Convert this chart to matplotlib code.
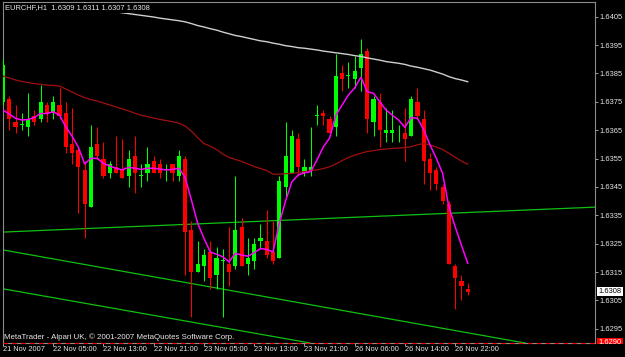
import matplotlib
matplotlib.use("Agg")
import matplotlib.pyplot as plt
from matplotlib.transforms import Bbox
import numpy as np

plt.rcParams['font.family'] = ['Liberation Sans', 'DejaVu Sans']

# EURCHF H1 candles, 21 Nov 2007 21:00 .. 27 Nov 2007 00:00
opens = [1.6375, 1.6376, 1.6368, 1.6367, 1.6366, 1.6370, 1.6369, 1.6374, 1.6371, 1.6374,
         1.6371, 1.6360, 1.6358, 1.6351, 1.6338, 1.6360, 1.6355, 1.6350, 1.6352, 1.6351,
         1.6349, 1.6356, 1.6349, 1.6350, 1.6354, 1.6353, 1.6351, 1.6353, 1.6349, 1.6355,
         1.6330, 1.6315, 1.6317, 1.6322, 1.6314, 1.6319, 1.6318, 1.6317, 1.6331, 1.6318,
         1.6319, 1.6326, 1.6326, 1.6322, 1.6320, 1.6345, 1.6350, 1.6362, 1.6350, 1.6351,
         1.6370, 1.6371, 1.6369, 1.6366, 1.6385, 1.6384, 1.6383, 1.6387, 1.6393, 1.6368,
         1.6375, 1.6364, 1.6364, 1.6366, 1.6364, 1.6363, 1.6375, 1.6369, 1.6355, 1.6351,
         1.6345, 1.6339, 1.6317, 1.6312, 1.6309]
highs = [1.6390, 1.6377, 1.6374, 1.6371, 1.6378, 1.6372, 1.6381, 1.6375, 1.6377, 1.6380,
         1.6375, 1.6373, 1.6359, 1.6354, 1.6367, 1.6366, 1.6361, 1.6354, 1.6363, 1.6362,
         1.6358, 1.6363, 1.6353, 1.6359, 1.6356, 1.6355, 1.6353, 1.6353, 1.6358, 1.6356,
         1.6333, 1.6326, 1.6323, 1.6326, 1.6324, 1.6323, 1.6331, 1.6349, 1.6334, 1.6327,
         1.6327, 1.6332, 1.6337, 1.6333, 1.6349, 1.6368, 1.6365, 1.6364, 1.6355, 1.6366,
         1.6374, 1.6372, 1.6370, 1.6392, 1.6388, 1.6389, 1.6391, 1.6397, 1.6394, 1.6377,
         1.6378, 1.6373, 1.6372, 1.6367, 1.6373, 1.6377, 1.6380, 1.6372, 1.6357, 1.6352,
         1.6346, 1.6340, 1.6318, 1.6314, 1.6311]
lows = [1.6374, 1.6365, 1.6364, 1.6365, 1.6363, 1.6367, 1.6368, 1.6368, 1.6369, 1.6369,
        1.6357, 1.6353, 1.6336, 1.6327, 1.6338, 1.6355, 1.6348, 1.6348, 1.6350, 1.6348,
        1.6345, 1.6343, 1.6345, 1.6347, 1.6350, 1.6348, 1.6347, 1.6347, 1.6347, 1.6314,
        1.6299, 1.6315, 1.6312, 1.6309, 1.6309, 1.6299, 1.6310, 1.6316, 1.6317, 1.6314,
        1.6316, 1.6323, 1.6320, 1.6318, 1.6320, 1.6341, 1.6350, 1.6349, 1.6349, 1.6349,
        1.6367, 1.6367, 1.6364, 1.6363, 1.6379, 1.6380, 1.6380, 1.6379, 1.6364, 1.6363,
        1.6359, 1.6361, 1.6361, 1.6361, 1.6354, 1.6363, 1.6369, 1.6346, 1.6344, 1.6344,
        1.6339, 1.6318, 1.6302, 1.6305, 1.6307]
closes = [1.6388, 1.6369, 1.6366, 1.6367, 1.6369, 1.6368, 1.6375, 1.6371, 1.6375, 1.6370,
          1.6359, 1.6357, 1.6352, 1.6339, 1.6359, 1.6356, 1.6349, 1.6353, 1.6350, 1.6348,
          1.6355, 1.6350, 1.6349, 1.6353, 1.6350, 1.6350, 1.6351, 1.6350, 1.6356, 1.6329,
          1.6315, 1.6318, 1.6321, 1.6313, 1.6320, 1.6319, 1.6315, 1.6330, 1.6317, 1.6320,
          1.6325, 1.6327, 1.6321, 1.6319, 1.6347, 1.6356, 1.6363, 1.6352, 1.6352, 1.6352,
          1.6370, 1.6370, 1.6364, 1.6384, 1.6383, 1.6384, 1.6386, 1.6392, 1.6369, 1.6376,
          1.6365, 1.6365, 1.6365, 1.6366, 1.6362, 1.6376, 1.6370, 1.6354, 1.6350, 1.6346,
          1.6340, 1.6318, 1.6313, 1.6310, 1.6308]

# indicator lines
ma_fast = [1.63721, 1.63707, 1.63692, 1.63686, 1.63688, 1.63695, 1.63709, 1.63709, 1.63715, 1.63703,
           1.63662, 1.63629, 1.63590, 1.63531, 1.63551, 1.63551, 1.63533, 1.63524, 1.63516, 1.63510,
           1.63519, 1.63516, 1.63512, 1.63516, 1.63516, 1.63513, 1.63510, 1.63512, 1.63516, 1.63484,
           1.63404, 1.63322, 1.63269, 1.63221, 1.63213, 1.63204, 1.63186, 1.63216, 1.63210, 1.63206,
           1.63218, 1.63233, 1.63230, 1.63221, 1.63322, 1.63401, 1.63468, 1.63492, 1.63500, 1.63504,
           1.63545, 1.63591, 1.63622, 1.63703, 1.63739, 1.63774, 1.63799, 1.63837, 1.63786, 1.63780,
           1.63750, 1.63721, 1.63703, 1.63686, 1.63660, 1.63695, 1.63692, 1.63651, 1.63598, 1.63551,
           1.63498, 1.63380, 1.63310, 1.63245, 1.63181]
ma_mid = [1.63841, 1.63834, 1.63827, 1.63822, 1.63818, 1.63814, 1.63812, 1.63809, 1.63808, 1.63806,
          1.63795, 1.63785, 1.63774, 1.63765, 1.63758, 1.63753, 1.63746, 1.63739, 1.63732, 1.63725,
          1.63718, 1.63710, 1.63703, 1.63698, 1.63693, 1.63688, 1.63684, 1.63680, 1.63675, 1.63665,
          1.63647, 1.63624, 1.63603, 1.63594, 1.63582, 1.63566, 1.63554, 1.63547, 1.63540, 1.63531,
          1.63522, 1.63515, 1.63508, 1.63495, 1.63495, 1.63497, 1.63498, 1.63501, 1.63504, 1.63508,
          1.63510, 1.63515, 1.63521, 1.63531, 1.63543, 1.63554, 1.63562, 1.63569, 1.63575, 1.63578,
          1.63582, 1.63584, 1.63586, 1.63587, 1.63589, 1.63592, 1.63599, 1.63603, 1.63598, 1.63591,
          1.63582, 1.63569, 1.63555, 1.63541, 1.63530]
ma_slow_start = 13
ma_slow = [1.64098, 1.64092, 1.64086, 1.64081, 1.64074, 1.64068, 1.64064, 1.64061, 1.64058, 1.64055,
           1.64052, 1.64049, 1.64045, 1.64042, 1.64039, 1.64036, 1.64032, 1.64026, 1.64019, 1.64014,
           1.64008, 1.64003, 1.63996, 1.63990, 1.63984, 1.63980, 1.63975, 1.63970, 1.63965, 1.63962,
           1.63957, 1.63953, 1.63948, 1.63945, 1.63941, 1.63939, 1.63936, 1.63933, 1.63929, 1.63926,
           1.63923, 1.63920, 1.63917, 1.63913, 1.63910, 1.63905, 1.63901, 1.63897, 1.63892, 1.63889,
           1.63886, 1.63882, 1.63876, 1.63872, 1.63867, 1.63862, 1.63855, 1.63848, 1.63839, 1.63832,
           1.63827, 1.63821]

# trend lines: price at bar 0 and at the last bar
trend_bars = [0, 74]
trend_flat = [1.63291, 1.63360]
trend_upper = [1.63228, 1.62936]
trend_lower = [1.63091, 1.62802]
level_line = 1.6290

price_ticks = [1.6295, 1.6305, 1.6315, 1.6325, 1.6335, 1.6345,
               1.6355, 1.6365, 1.6375, 1.6385, 1.6395, 1.6405]
time_bars = [0, 8, 16, 24, 32, 40, 48, 56, 64, 72]
time_labels = ["21 Nov 2007", "22 Nov 05:00", "22 Nov 13:00", "22 Nov 21:00",
               "23 Nov 05:00", "23 Nov 13:00", "23 Nov 21:00", "26 Nov 06:00",
               "26 Nov 14:00", "26 Nov 22:00"]

W, H = 625, 357
fig = plt.figure(figsize=(W / 100, H / 100), dpi=100, facecolor='black')
ax = fig.add_axes([2.5 / W, (H - 343) / H, (595 - 2.5) / W, (343 - 2) / H])
ax.set_facecolor('black')

o = np.array(opens); h = np.array(highs); l = np.array(lows); c = np.array(closes)
x = np.arange(len(c))
col = np.where(c >= o, '#00ff00', '#ff0000')

ax.vlines(x, l, h, colors=col, lw=0.75, zorder=3)
ax.bar(x, np.maximum(np.abs(c - o), 0.00003), bottom=np.minimum(o, c),
       width=0.66, color=col, linewidth=0, zorder=4)

ax.plot(x, ma_mid, color='#a01010', lw=0.9, zorder=5)
ax.plot(x[ma_slow_start:], ma_slow, color='#cfcfcf', lw=1.0, zorder=5)
ax.plot(x, ma_fast, color='#ff00ff', lw=1.1, zorder=6)

for tl in (trend_flat, trend_upper, trend_lower):
    ax.axline((trend_bars[0], tl[0]), (trend_bars[1], tl[1]), color='#10c010', lw=0.9, zorder=2)

ax.axhline(level_line, color='#ff0000', lw=0.8, ls=(0, (4, 4)), clip_on=False, zorder=7)

ax.set_xlim(-0.08, 94.27)
ax.set_ylim(1.62900, 1.64102)

for s in ax.spines.values():
    s.set_color('#8c8c8c')
    s.set_linewidth(0.8)

ax.yaxis.tick_right()
ax.set_yticks(price_ticks)
ax.set_yticklabels([f"{p:.4f}" for p in price_ticks])
ax.tick_params(axis='y', colors='#a0a0a0', labelcolor='#e8e8e8', length=2.5, width=0.7,
               labelsize=5.4, pad=0.6)
ax.set_xticks(time_bars)
ax.set_xticklabels(time_labels)
ax.tick_params(axis='x', colors='#a0a0a0', labelcolor='#e8e8e8', length=2, width=0.7,
               labelsize=5.3, pad=0.3)
for lbl in ax.get_xticklabels():
    lbl.set_ha('left')

# header covers the lines behind it, like the terminal does
fig.text(5 / W, 1 - 8 / H, "EURCHF,H1  1.6309 1.6311 1.6307 1.6308", color='#e8e8e8',
         fontsize=5.4, va='center', ha='left', zorder=10,
         bbox=dict(boxstyle='square,pad=0.2', fc='black', ec='none'))
fig.text(4 / W, 1 - 337.3 / H, "MetaTrader - Alpari UK, \u00a9 2001-2007 MetaQuotes Software Corp.",
         color='#e8e8e8', fontsize=5.7, va='center', ha='left')

fig.text(598.5 / W, 1 - 291.7 / H, "1.6308", color='black', fontsize=5.4, va='center', ha='left',
         bbox=dict(boxstyle='square,pad=0.15', fc='white', ec='none'))
t = fig.text(598.5 / W, 1 - 342.6 / H, "1.6290", color='white', fontsize=5.4, va='center', ha='left',
             bbox=dict(boxstyle='square,pad=0.15', fc='#ff0000', ec='none'))
t.set_clip_box(Bbox.from_extents(590, H - 343.5, W, H))

fig.savefig("out.png", dpi=100, facecolor='black')
